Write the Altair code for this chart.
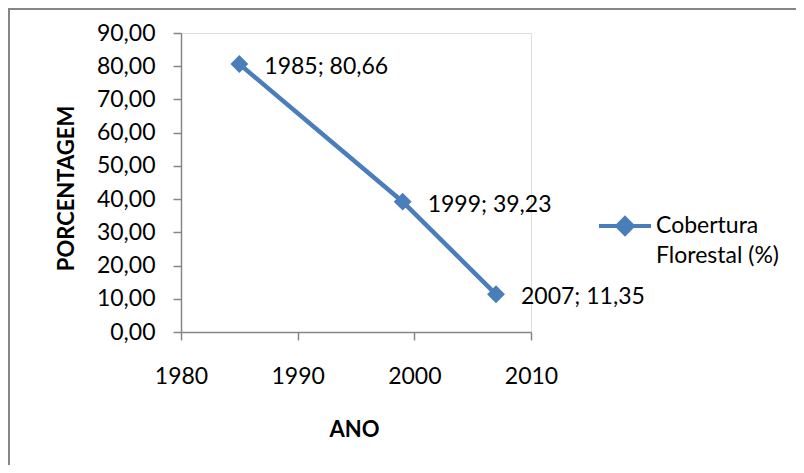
import altair as alt
import pandas as pd

# ---- data ----
anos = [1985, 1999, 2007]
cobertura = [80.66, 39.23, 11.35]
serie_nome = "Cobertura|Florestal (%)"
x_ticks = [1980, 1990, 2000, 2010]
y_ticks = [0, 10, 20, 30, 40, 50, 60, 70, 80, 90]

df = pd.DataFrame({"ANO": anos, "PORC": cobertura, "serie": [serie_nome] * len(anos)})
df["rotulo"] = [f"{a}; {v:.2f}".replace(".", ",") for a, v in zip(anos, cobertura)]

FONT = "Lato"
BLUE = "#4a7ebb"
GRAY = "#868686"
FS = 23

x = alt.X(
    "ANO:Q",
    scale=alt.Scale(domain=[1980, 2010], nice=False, zero=False),
    axis=alt.Axis(
        values=x_ticks, format="d", title="ANO", grid=False, labelFlush=False,
        domainColor=GRAY, domainWidth=1.5, tickColor=GRAY, tickWidth=1.5, tickSize=8,
        labelFont=FONT, labelFontSize=FS, labelColor="black", labelPadding=25,
        titleFont=FONT, titleFontSize=22, titleFontWeight="bold", titleColor="black",
        titleX=173, titleY=97, titleBaseline="middle", titleAlign="center",
    ),
)
y = alt.Y(
    "PORC:Q",
    scale=alt.Scale(domain=[0, 90], nice=False),
    axis=alt.Axis(
        values=y_ticks, labelExpr="replace(format(datum.value, '.2f'), '.', ',')",
        title="PORCENTAGEM", grid=False, labelFlush=False,
        domainColor=GRAY, domainWidth=1.5, tickColor=GRAY, tickWidth=1.5, tickSize=8,
        labelFont=FONT, labelFontSize=FS, labelColor="black", labelPadding=18,
        titleFont=FONT, titleFontSize=22, titleFontWeight="bold", titleColor="black",
        titleX=-115, titleY=155, titleBaseline="middle", titleAlign="center", titleAngle=270,
    ),
)

legend_symbol = "M-1,0H1M0,-0.3L0.3,0L0,0.3L-0.3,0Z"
color = alt.Color(
    "serie:N",
    scale=alt.Scale(range=[BLUE]),
    legend=alt.Legend(
        title=None, orient="none", legendX=416, legendY=165, padding=0,
        symbolType=legend_symbol, symbolSize=2704, symbolStrokeWidth=4,
        symbolFillColor=BLUE, symbolStrokeColor=BLUE,
        labelFont=FONT, labelFontSize=FS, labelColor="black", labelOffset=3,
        labelBaseline="middle", labelLimit=300,
        labelExpr="split(datum.label, '|')",
    ),
)

line = alt.Chart(df).mark_line(strokeWidth=4.5).encode(x=x, y=y, color=color)
pts = alt.Chart(df).mark_point(shape="diamond", filled=True, size=320, opacity=1).encode(
    x=x, y=y, color=color
)
labels = alt.Chart(df).mark_text(
    align="left", baseline="middle", dx=25, dy=3, font=FONT, fontSize=FS, color="black"
).encode(x=x, y=y, text="rotulo")

frame = alt.Chart(pd.DataFrame({"k": [0]})).mark_rect(
    fillOpacity=0, stroke=GRAY, strokeWidth=2
).encode(x=alt.value(-172), x2=alt.value(800), y=alt.value(-24), y2=alt.value(600))

chart = (
    alt.layer(frame, line, pts, labels)
    .properties(
        width=350, height=299,
        autosize=alt.AutoSizeParams(type="none"),
        padding={"left": 173, "top": 25, "right": 265, "bottom": 133},
        background="white",
    )
    .configure_view(stroke=None)
    .configure(style={"guide-label": {"lineHeight": 30}})
)

chart.save("out.html", embed_options={"renderer": "svg", "actions": False})
